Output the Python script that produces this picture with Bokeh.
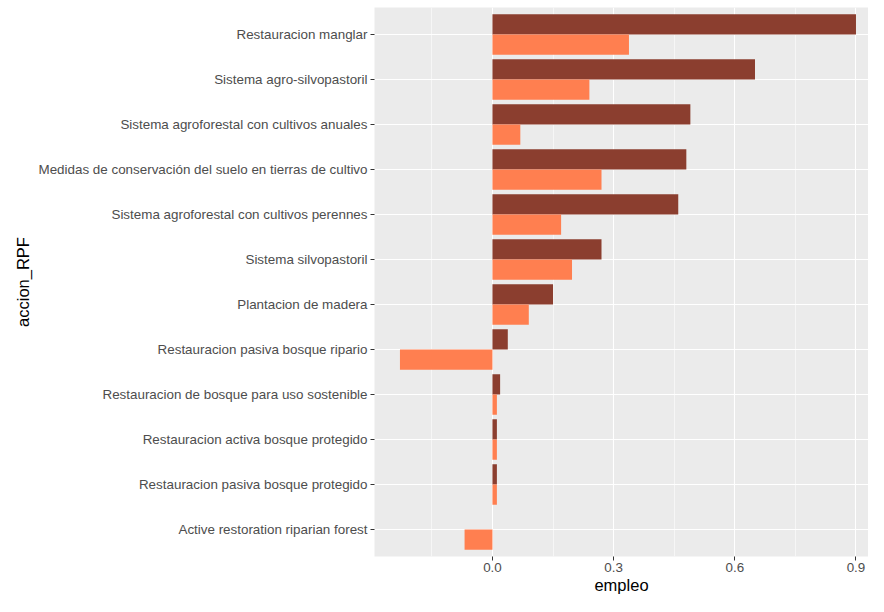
from bokeh.plotting import figure
from bokeh.models import ColumnDataSource, FactorRange, Range1d, FixedTicker
from bokeh.transform import dodge
from bokeh.embed import file_html
from bokeh.resources import INLINE

# Categories, top to bottom as in the reference
acciones = [
    "Restauracion manglar",
    "Sistema agro-silvopastoril",
    "Sistema agroforestal con cultivos anuales",
    "Medidas de conservación del suelo en tierras de cultivo",
    "Sistema agroforestal con cultivos perennes",
    "Sistema silvopastoril",
    "Plantacion de madera",
    "Restauracion pasiva bosque ripario",
    "Restauracion de bosque para uso sostenible",
    "Restauracion activa bosque protegido",
    "Restauracion pasiva bosque protegido",
    "Active restoration riparian forest",
]
empleo_serie1 = [0.90, 0.65, 0.49, 0.48, 0.46, 0.27, 0.15, 0.038, 0.019, 0.011, 0.011, 0.0]
empleo_serie2 = [0.338, 0.24, 0.069, 0.27, 0.17, 0.197, 0.09, -0.229, 0.011, 0.011, 0.011, -0.069]

x_ticks = [0.0, 0.3, 0.6, 0.9]
x_tick_labels = ["0.0", "0.3", "0.6", "0.9"]
x_minor = [-0.15, 0.15, 0.45, 0.75]

src = ColumnDataSource(dict(accion=acciones, s1=empleo_serie1, s2=empleo_serie2))

yr = FactorRange(factors=list(reversed(acciones)), range_padding=0.1, range_padding_units="absolute")

p = figure(width=868, height=596, y_range=yr, x_range=Range1d(-0.292, 0.931),
           output_backend="svg", toolbar_location=None,
           min_border_left=374, min_border_right=0, min_border_top=7, min_border_bottom=0)

p.hbar(y=dodge("accion", 0.225, range=p.y_range), right="s1", left=0, height=0.45,
       source=src, fill_color="#8B3E2F", line_color=None)
p.hbar(y=dodge("accion", -0.225, range=p.y_range), right="s2", left=0, height=0.45,
       source=src, fill_color="#FF7F50", line_color=None)

p.background_fill_color = "#EBEBEB"
p.border_fill_color = "white"
p.outline_line_color = None

p.xaxis.ticker = FixedTicker(ticks=x_ticks, minor_ticks=x_minor)
p.xaxis.major_label_overrides = {t: l for t, l in zip(x_ticks, x_tick_labels)}
p.xgrid.grid_line_color = "white"
p.xgrid.grid_line_width = 1.1
p.xgrid.minor_grid_line_color = "white"
p.xgrid.minor_grid_line_width = 0.55
p.ygrid.grid_line_color = "white"
p.ygrid.grid_line_width = 1.1

for ax in (p.xaxis[0], p.yaxis[0]):
    ax.axis_line_color = None
    ax.major_tick_line_color = "#333333"
    ax.major_tick_in = 0
    ax.major_tick_out = 4
    ax.minor_tick_line_color = None
    ax.major_label_text_color = "#4D4D4D"
    ax.major_label_text_font = "Liberation Sans"
    ax.major_label_text_font_size = "13.4px"
    ax.axis_label_text_font = "Liberation Sans"
    ax.axis_label_text_font_size = "16.5px"
    ax.axis_label_text_font_style = "normal"
    ax.axis_label_text_color = "black"
    ax.major_label_standoff = 3

p.xaxis.axis_label = "empleo"
p.xaxis.axis_label_standoff = 1
p.xaxis.major_label_standoff = 2
p.yaxis.axis_label = "accion_RPF"
p.yaxis.axis_label_standoff = 4

open("out.html", "w").write(file_html(p, INLINE))
